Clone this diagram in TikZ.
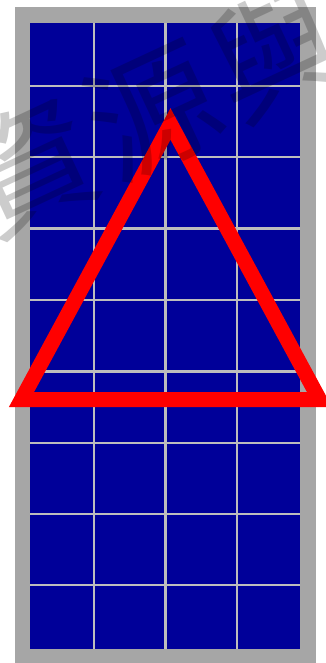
\documentclass[tikz,border=0pt]{standalone}
\usepackage{fontspec}
\newfontfamily\cjk{Noto Sans CJK TC}
\definecolor{framegray}{HTML}{A6A6A6}
\definecolor{panelblue}{HTML}{000099}
\definecolor{gridgray}{HTML}{BDBDBD}
\definecolor{trired}{HTML}{FF0000}
\tikzset{
  frame/.style={fill=framegray, draw=none},
  panel/.style={fill=panelblue, draw=none},
  gridline/.style={draw=gridgray, line width=2.5pt},
  tri/.style={draw=trired, line width=15pt, miter limit=10, line join=miter},
  wmark/.style={text=black, text opacity=0.2, font=\cjk\fontsize{130}{130}\selectfont, rotate=25, inner sep=0pt}
}
\begin{document}
\begin{tikzpicture}[x=1pt,y=-1pt]
\useasboundingbox (0,0) rectangle (326,663);
\fill[white] (0,0) rectangle (326,663);
% frame and panel
\path[frame] (15,7) rectangle (316,663);
\path[panel] (30,23) rectangle (300,649);
% grid
\foreach \gx in {94,165.5,237}{\draw[gridline] (\gx,23) -- (\gx,649);}
\foreach \gy in {86,157,228.5,300,371.5,443,514,585}{\draw[gridline] (30,\gy) -- (300,\gy);}
% triangle
\coordinate (A) at (170.5,124);
\coordinate (B) at (21.5,399.5);
\coordinate (C) at (319.5,399.5);
\draw[tri] (A) -- (B) -- (C) -- cycle;
% watermark
\node[wmark] (wm) at (152,110) {資\kern6pt源\kern6pt與};
\end{tikzpicture}
\end{document}
